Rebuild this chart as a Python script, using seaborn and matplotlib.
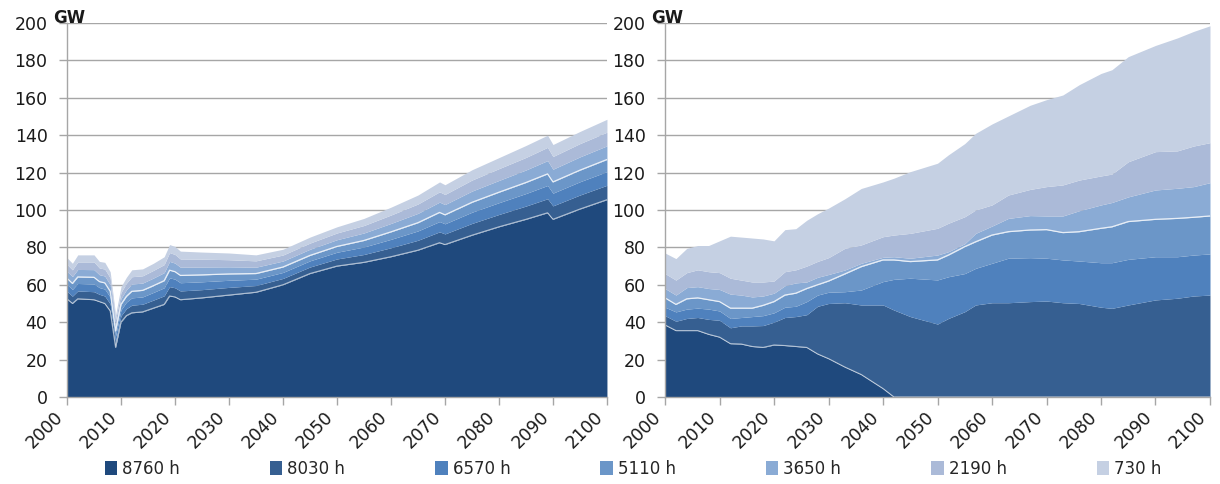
import numpy as np
import matplotlib
matplotlib.use('Agg')
import matplotlib.pyplot as plt
from matplotlib.patches import Patch
import seaborn as sns

sns.set_style('white')
plt.rcParams['font.family'] = ['DejaVu Sans']

# series names and colours (bottom to top)
labels = ['8760 h', '8030 h', '6570 h', '5110 h', '3650 h', '2190 h', '730 h']
colors = ['#1f497d', '#365f91', '#4f81bd', '#6b96c8', '#8aabd5', '#abbad8', '#c5d0e3']

# ---- left panel (GW per duration class) ----
years_l = [2000, 2001, 2002, 2005, 2006, 2007, 2008, 2009, 2010, 2011,
           2012, 2014, 2016, 2018, 2019, 2020, 2021, 2025, 2030, 2035,
           2040, 2045, 2050, 2055, 2060, 2065, 2069, 2070, 2075, 2080,
           2085, 2089, 2090, 2095, 2100]
l_8760 = [52.5, 50, 52.5, 52, 51, 50, 46, 26.5, 40, 43.5,
          45, 45.5, 47.5, 49.5, 54, 53.5, 52, 53, 54.5, 56,
          60, 66, 70, 72, 75, 78.5, 82.5, 81.5, 86.5, 91,
          95, 98.5, 95, 100.5, 105.5]
l_8030 = [4.0, 3.9, 4.2, 4.3, 3.9, 4.0, 3.8, 3.2, 3.4, 3.7, 4.1, 4.1, 4.3, 4.6, 5.0, 4.9, 4.7, 4.4,
          4.1, 3.6, 3.4, 3.5, 3.8, 4.2, 4.8, 5.3, 5.8, 5.7, 6.3, 6.6, 7.1, 7.5, 7.2, 7.5, 7.7]
l_6570 = [3.7, 3.6, 4.0, 4.1, 3.6, 3.7, 3.6, 3.0, 3.2, 3.5, 3.9, 3.9, 4.1, 4.3, 4.7, 4.6, 4.4, 4.2,
          3.8, 3.4, 3.2, 3.3, 3.6, 4.0, 4.5, 5.0, 5.5, 5.4, 6.0, 6.3, 6.7, 7.1, 6.8, 7.1, 7.3]
l_5110 = [3.3, 3.2, 3.5, 3.6, 3.2, 3.3, 3.1, 2.6, 2.9, 3.1, 3.5, 3.5, 3.6, 3.8, 4.1, 4.0, 3.9, 3.7,
          3.4, 3.0, 2.9, 2.9, 3.1, 3.5, 4.0, 4.4, 4.9, 4.8, 5.3, 5.6, 5.9, 6.2, 6.0, 6.2, 6.5]
l_3650 = [3.7, 3.7, 4.0, 4.1, 3.7, 3.7, 3.6, 3.0, 3.2, 3.5, 3.9, 3.9, 4.1, 4.3, 4.7, 4.6, 4.4, 4.2,
          3.8, 3.4, 3.2, 3.3, 3.6, 4.0, 4.5, 5.0, 5.5, 5.5, 6.0, 6.3, 6.7, 7.1, 6.8, 7.1, 7.3]
l_2190 = [3.7, 3.6, 4.0, 4.1, 3.6, 3.7, 3.6, 3.0, 3.2, 3.5, 3.9, 3.9, 4.1, 4.3, 4.7, 4.6, 4.4, 4.2,
          3.8, 3.4, 3.2, 3.3, 3.6, 4.0, 4.5, 5.0, 5.5, 5.4, 5.9, 6.3, 6.7, 7.1, 6.8, 7.1, 7.3]
l_730 = [3.6, 3.5, 3.8, 3.8, 3.5, 3.6, 3.3, 2.7, 3.1, 3.2, 3.7, 3.7, 3.8, 4.2, 4.3, 4.3, 4.2, 3.8,
         3.6, 3.2, 3.1, 3.2, 3.3, 3.8, 4.2, 4.8, 5.3, 5.2, 5.5, 5.9, 6.4, 6.5, 6.4, 6.5, 6.9]

# ---- right panel ----
years_r = [2000, 2002, 2004, 2006, 2008, 2010, 2012, 2014, 2016, 2018,
           2020, 2022, 2024, 2026, 2028, 2030, 2033, 2036, 2040, 2042,
           2045, 2050, 2052, 2055, 2057, 2060, 2063, 2067, 2070, 2073,
           2076, 2080, 2082, 2085, 2090, 2094, 2097, 2100]
r_8760 = [38.5, 35.5, 35.5, 35.5, 33.5, 32, 28.5, 28.3, 27, 26.5,
          27.8, 27.5, 27, 26.5, 23, 20.5, 16, 12, 4.5, 0,
          0, 0, 0, 0, 0, 0, 0, 0, 0, 0,
          0, 0, 0, 0, 0, 0, 0, 0]
r_8030 = [5, 5, 6.5, 7, 8, 9, 8.5, 9.7, 11, 11.7,
          12.2, 15, 16, 17.5, 25.5, 29.5, 34.4, 37.2, 44.7, 46.5,
          43, 39, 42, 45.6, 49.2, 50.4, 50.4, 51, 51.3, 50.4,
          50, 48, 47.4, 49.2, 51.9, 52.8, 54, 54.5]
r_6570 = [4.5, 5, 5, 5, 5.5, 5, 5, 4.5, 5, 5.3,
          5, 5.5, 5.5, 7, 6, 6, 5.9, 8, 12.5, 16.4,
          20.5, 23.6, 22.3, 20.4, 19.6, 21.1, 23.8, 23.5, 22.9, 22.9,
          22.7, 23.8, 24.4, 24.4, 23.1, 22.2, 21.9, 22]
r_5110 = [5, 4, 5.5, 5.5, 5, 5, 5.5, 5, 4.5, 5.5,
          6, 6.5, 7, 7, 5.5, 6, 9.5, 12.5, 11.6, 10.4,
          8.9, 10.7, 11.6, 14.4, 14.2, 15.1, 14.2, 14.8, 15.3, 14.6,
          15.7, 18.4, 19.2, 20.2, 20, 20.5, 20.2, 20.3]
r_3650 = [5, 5, 6, 6, 6, 6.5, 7.5, 7, 6, 5,
          4.5, 5, 5.5, 3.5, 4, 3.5, 2.1, 1.8, 1.4, 1.7,
          1.8, 2.6, 1.8, 1.6, 4.5, 4.8, 7.1, 7.7, 7.3, 8.9,
          11.2, 12.5, 13, 13.2, 15.7, 16.1, 16.4, 17.8]
r_2190 = [8, 8, 8, 9, 9, 9, 8.5, 8, 8, 7.5,
          6.5, 7.5, 7, 8.5, 8.5, 9, 11.6, 9.8, 11, 11.6,
          13.3, 14.3, 15.2, 14.4, 12.5, 11.3, 12.5, 14, 15.7, 16.6,
          16.4, 15.5, 15.2, 18.8, 20.5, 20, 21.7, 21.4]
r_730 = [11, 11.5, 13, 13, 14, 17, 22.5, 23, 23.5, 23,
         21.5, 22.5, 22, 24.5, 25.5, 26.5, 26.5, 30.2, 29.3, 30.4,
         33, 34.8, 36.6, 39.1, 41, 43.3, 42.3, 45, 46.5, 48.1,
         51, 54.8, 55.8, 56.2, 56.8, 60.4, 61.3, 62.5]

left_data = [l_8760, l_8030, l_6570, l_5110, l_3650, l_2190, l_730]
right_data = [r_8760, r_8030, r_6570, r_5110, r_3650, r_2190, r_730]

fig = plt.figure(figsize=(12.2, 4.84), dpi=100)
ax1 = fig.add_axes([0.0549, 0.1798, 0.4426, 0.7727])
ax2 = fig.add_axes([0.5451, 0.1798, 0.4467, 0.7727])

grey = '#a6a6a6'
for ax, yrs, data in [(ax1, years_l, left_data), (ax2, years_r, right_data)]:
    ax.stackplot(yrs, *data, colors=colors, linewidth=0)
    cum = np.cumsum(np.array(data), axis=0)
    # thin white separators like in the original
    ax.plot(yrs, cum[0], color='white', lw=0.8, alpha=0.6)
    ax.plot(yrs, cum[3], color='white', lw=0.9, alpha=0.8)
    ax.set_xlim(2000, 2100)
    ax.set_ylim(0, 200)
    ax.set_yticks(range(0, 201, 20))
    ax.set_xticks(range(2000, 2101, 10))
    ax.set_axisbelow(True)
    ax.yaxis.grid(True, color=grey, lw=1)
    ax.xaxis.grid(False)
    sns.despine(ax=ax)
    for s in ['left', 'bottom']:
        ax.spines[s].set_color(grey)
        ax.spines[s].set_linewidth(1)
    ax.tick_params(axis='both', colors=grey, labelcolor='#1a1a1a', labelsize=12.5,
                   direction='out', length=6, width=1)
    ax.tick_params(axis='x', bottom=True, pad=2)
    ax.tick_params(axis='y', left=True, pad=8)
    plt.setp(ax.get_xticklabels(), rotation=45, ha='right')
    ax.text(0.004, 1.013, 'GW', transform=ax.transAxes, ha='center', va='center',
            fontsize=12, fontweight='bold', color='#1a1a1a')

handles = [Patch(facecolor=c, edgecolor='none') for c in colors]
fig.legend(handles, labels, loc='center', bbox_to_anchor=(0.519, 0.032), ncol=7,
           frameon=False, fontsize=12, handlelength=0.75, handleheight=0.9,
           handletextpad=0.3, columnspacing=5.4)

fig.savefig('out.png', dpi=100)
